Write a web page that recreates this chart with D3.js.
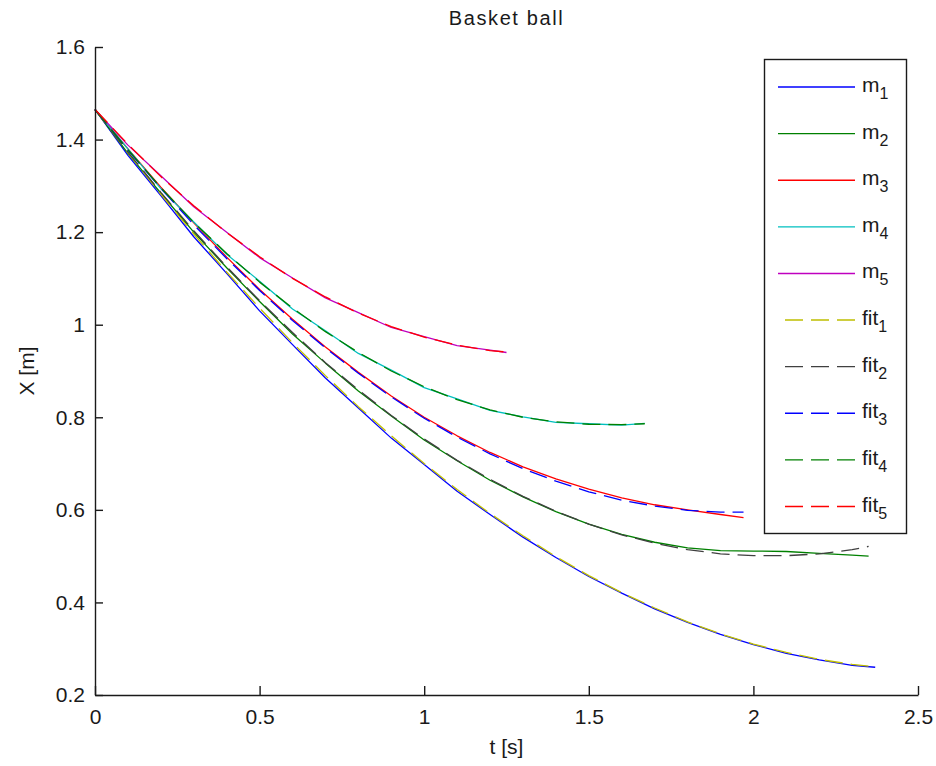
<!DOCTYPE html>
<html>
<head>
<meta charset="utf-8">
<script src="https://cdn.jsdelivr.net/npm/d3@7"></script>
<style>
  html, body { margin: 0; padding: 0; background: #fff; }
  svg text { font-family: "Liberation Sans", Arial, Helvetica, sans-serif; fill: #1a1a1a; }
</style>
</head>
<body>
<svg id="chart" width="936" height="766"></svg>
<script>
// ---------- data ----------
const chartTitle = "Basket ball";
const xLabel = "t [s]";
const yLabel = "X [m]";
const xTicks = [0, 0.5, 1, 1.5, 2, 2.5];
const xTickLabels = ["0", "0.5", "1", "1.5", "2", "2.5"];
const yTicks = [0.2, 0.4, 0.6, 0.8, 1.0, 1.2, 1.4, 1.6];
const yTickLabels = ["0.2", "0.4", "0.6", "0.8", "1", "1.2", "1.4", "1.6"];

const t1 = [0,0.1,0.2,0.3,0.4,0.5,0.6,0.7,0.8,0.9,1.0,1.1,1.2,1.3,1.4,1.5,1.6,1.7,1.8,1.9,2.0,2.1,2.2,2.3,2.37];
const m1 = [1.465,1.366,1.279,1.190,1.111,1.030,0.957,0.885,0.820,0.755,0.698,0.640,0.590,0.541,0.497,0.456,0.420,0.386,0.357,0.331,0.309,0.290,0.276,0.264,0.260];
const fit1 = [1.465,1.372,1.282,1.196,1.114,1.036,0.961,0.890,0.823,0.760,0.700,0.644,0.592,0.544,0.499,0.458,0.421,0.388,0.358,0.332,0.310,0.292,0.277,0.266,0.261];

const t2 = [0,0.1,0.2,0.3,0.4,0.5,0.6,0.7,0.8,0.9,1.0,1.1,1.2,1.3,1.4,1.5,1.6,1.7,1.8,1.9,2.0,2.1,2.2,2.3,2.35];
const m2 = [1.465,1.370,1.284,1.200,1.123,1.050,0.980,0.917,0.857,0.803,0.751,0.706,0.664,0.628,0.596,0.569,0.547,0.530,0.518,0.512,0.511,0.510,0.506,0.502,0.500];
const fit2 = [1.465,1.373,1.286,1.203,1.125,1.052,0.983,0.918,0.859,0.804,0.753,0.707,0.666,0.629,0.597,0.569,0.546,0.528,0.514,0.505,0.501,0.501,0.505,0.514,0.521];

const t3 = [0,0.1,0.2,0.3,0.4,0.5,0.6,0.7,0.8,0.9,1.0,1.1,1.2,1.3,1.4,1.5,1.6,1.7,1.8,1.9,1.97];
const m3 = [1.465,1.380,1.297,1.220,1.146,1.076,1.012,0.952,0.897,0.846,0.800,0.760,0.724,0.693,0.667,0.645,0.626,0.611,0.600,0.590,0.583];
const fit3 = [1.465,1.377,1.295,1.216,1.143,1.074,1.009,0.950,0.895,0.844,0.798,0.757,0.721,0.689,0.662,0.639,0.621,0.608,0.599,0.595,0.595];

const t4 = [0,0.1,0.2,0.3,0.4,0.5,0.6,0.7,0.8,0.9,1.0,1.1,1.2,1.3,1.4,1.5,1.6,1.67];
const m4 = [1.465,1.380,1.294,1.222,1.152,1.094,1.034,0.987,0.938,0.902,0.864,0.840,0.815,0.801,0.789,0.786,0.783,0.787];
const fit4 = [1.465,1.378,1.296,1.221,1.154,1.092,1.036,0.985,0.940,0.900,0.866,0.838,0.816,0.800,0.790,0.785,0.784,0.786];

const t5 = [0,0.1,0.2,0.3,0.4,0.5,0.6,0.7,0.8,0.9,1.0,1.1,1.2,1.25];
const m5 = [1.465,1.388,1.322,1.255,1.200,1.145,1.101,1.058,1.026,0.994,0.974,0.955,0.945,0.940];
const fit5 = [1.465,1.390,1.320,1.257,1.199,1.147,1.100,1.060,1.025,0.996,0.973,0.956,0.944,0.941];

const seriesNames = ["m", "m", "m", "m", "m", "fit", "fit", "fit", "fit", "fit"];
const seriesSubs = ["1", "2", "3", "4", "5", "1", "2", "3", "4", "5"];
const seriesColors = ["#0000ff", "#008000", "#ff0000", "#00bfbf", "#bf00bf", "#bfbf00", "#404040", "#0000ff", "#008000", "#ff0000"];
const seriesDashed = [false, false, false, false, false, true, true, true, true, true];
const seriesT = [t1, t2, t3, t4, t5, t1, t2, t3, t4, t5];
const seriesX = [m1, m2, m3, m4, m5, fit1, fit2, fit3, fit4, fit5];

// ---------- layout ----------
const plot = { left: 95, right: 918, top: 47, bottom: 695 };
const svg = d3.select("#chart");

const x = d3.scaleLinear().domain([0, 2.5]).range([plot.left, plot.right]);
const y = d3.scaleLinear().domain([0.2, 1.6]).range([plot.bottom, plot.top]);

// lines
const lineGen = d3.line().x(d => x(d[0])).y(d => y(d[1]));
const gLines = svg.append("g");
seriesX.forEach((vals, i) => {
  const pts = vals.map((v, j) => [seriesT[i][j], v]);
  gLines.append("path")
    .attr("d", lineGen(pts))
    .attr("fill", "none")
    .attr("stroke", seriesColors[i])
    .attr("stroke-width", 1.3)
    .attr("stroke-dasharray", seriesDashed[i] ? "18,8" : null)
    .attr("stroke-linejoin", "round");
});

// axes
const xAxis = d3.axisBottom(x).tickValues(xTicks)
  .tickFormat((d, i) => xTickLabels[i]).tickSizeInner(-9).tickSizeOuter(0).tickPadding(14);
const yAxis = d3.axisLeft(y).tickValues(yTicks)
  .tickFormat((d, i) => yTickLabels[i]).tickSizeInner(-8).tickSizeOuter(0).tickPadding(10);

const gx = svg.append("g").attr("transform", `translate(0,${plot.bottom})`).call(xAxis);
const gy = svg.append("g").attr("transform", `translate(${plot.left},0)`).call(yAxis);
[gx, gy].forEach(g => {
  g.selectAll("path, line").attr("stroke", "#1a1a1a").attr("stroke-width", 1.4);
  g.selectAll("text").attr("font-size", 21).attr("fill", "#1a1a1a")
    .style("font-family", "'Liberation Sans', Arial, sans-serif");
});

// title and axis labels
svg.append("text").attr("x", (plot.left + plot.right) / 2).attr("y", 25)
  .attr("text-anchor", "middle").attr("font-size", 20).attr("letter-spacing", 1.6)
  .text(chartTitle);
svg.append("text").attr("x", (plot.left + plot.right) / 2).attr("y", 754)
  .attr("text-anchor", "middle").attr("font-size", 21).text(xLabel);
svg.append("text").attr("transform", `translate(34,${(plot.top + plot.bottom) / 2}) rotate(-90)`)
  .attr("text-anchor", "middle").attr("font-size", 21).text(yLabel);

// legend
const leg = { x0: 764, y0: 59, x1: 906, y1: 533 };
svg.append("rect").attr("x", leg.x0 + 0.5).attr("y", leg.y0 + 0.5)
  .attr("width", leg.x1 - leg.x0).attr("height", leg.y1 - leg.y0)
  .attr("fill", "#fff").attr("stroke", "#1a1a1a").attr("stroke-width", 1.4);
const rowY = d3.scaleLinear().domain([0, 9]).range([87, 506.5]);
seriesNames.forEach((nm, i) => {
  const yy = rowY(i);
  svg.append("line")
    .attr("x1", seriesDashed[i] ? 785 : 778).attr("x2", 855)
    .attr("y1", yy).attr("y2", yy)
    .attr("stroke", seriesColors[i]).attr("stroke-width", 1.4)
    .attr("stroke-dasharray", seriesDashed[i] ? "18,8" : null);
  const t = svg.append("text").attr("x", 862).attr("y", yy + 5).attr("font-size", 21);
  t.append("tspan").text(nm);
  t.append("tspan").attr("dy", 7).attr("font-size", 16).text(seriesSubs[i]);
});
</script>
</body>
</html>
